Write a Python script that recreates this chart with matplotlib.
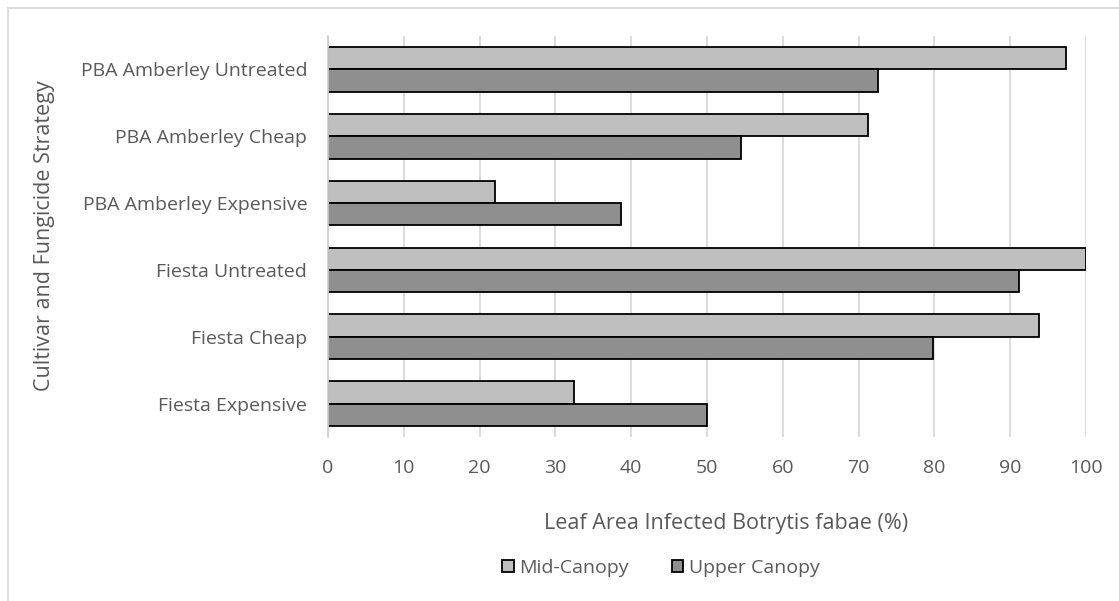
import matplotlib.pyplot as plt
from matplotlib.patches import Patch
from matplotlib.lines import Line2D
import numpy as np

plt.rcParams['font.family'] = ['Open Sans', 'DejaVu Sans']

# categories listed top to bottom
categories = ['PBA Amberley Untreated', 'PBA Amberley Cheap', 'PBA Amberley Expensive',
              'Fiesta Untreated', 'Fiesta Cheap', 'Fiesta Expensive']
mid_canopy = [97.4, 71.2, 22.0, 100.0, 93.8, 32.5]
upper_canopy = [72.6, 54.5, 38.7, 91.1, 79.8, 50.0]
series_names = ['Mid-Canopy', 'Upper Canopy']
x_ticks = list(range(0, 101, 10))

text_col = '#595959'
mid_col = '#bfbfbf'
up_col = '#8f8f8f'

W, H = 1119, 601
fig = plt.figure(figsize=(W / 100, H / 100), dpi=100)
ax = fig.add_axes([328 / W, 1 - 437 / H, (1086 - 328) / W, (437 - 36) / H])

n = len(categories)
y = np.arange(n)[::-1]
h = 0.335
ax.barh(y + h / 2, mid_canopy, height=h, color=mid_col, edgecolor='black', linewidth=1.3, zorder=3)
ax.barh(y - h / 2, upper_canopy, height=h, color=up_col, edgecolor='black', linewidth=1.3, zorder=3)

ax.set_xlim(0, 100)
ax.set_ylim(-0.5, n - 0.5)
ax.set_xticks(x_ticks)
ax.set_yticks(y)
ax.set_yticklabels(categories)
ax.tick_params(axis='both', length=0, labelsize=14, labelcolor=text_col)
ax.tick_params(axis='y', pad=15)
ax.tick_params(axis='x', pad=16)
ax.grid(axis='x', color='#d9d9d9', linewidth=1.3, zorder=0)
for s in ['top', 'right', 'bottom']:
    ax.spines[s].set_visible(False)
ax.spines['left'].set_color('#d0d0d0')
ax.spines['left'].set_linewidth(1.3)
ax.spines['left'].set_zorder(4)

fig.text(726 / W, 1 - 523 / H, 'Leaf Area Infected Botrytis fabae (%)', ha='center', va='center',
         fontsize=15.5, color=text_col)
fig.text(45 / W, 1 - 236 / H, 'Cultivar and Fungicide Strategy', rotation=90, ha='center', va='center',
         fontsize=15.5, color=text_col)

handles = [Patch(facecolor=mid_col, edgecolor='black', linewidth=1.3),
           Patch(facecolor=up_col, edgecolor='black', linewidth=1.3)]
fig.legend(handles, series_names, loc='center', bbox_to_anchor=(661 / W, 1 - 568 / H), ncol=2,
           frameon=False, fontsize=14, labelcolor=text_col, handlelength=0.6, handleheight=0.6,
           handletextpad=0.3, columnspacing=2.2)

# outer chart border (cut at right and bottom)
fig.add_artist(Line2D([8 / W, 1], [1 - 8 / H, 1 - 8 / H], color='#d9d9d9', linewidth=1.3))
fig.add_artist(Line2D([8 / W, 8 / W], [0, 1 - 8 / H], color='#d9d9d9', linewidth=1.3))

fig.savefig('out.png', dpi=100)
